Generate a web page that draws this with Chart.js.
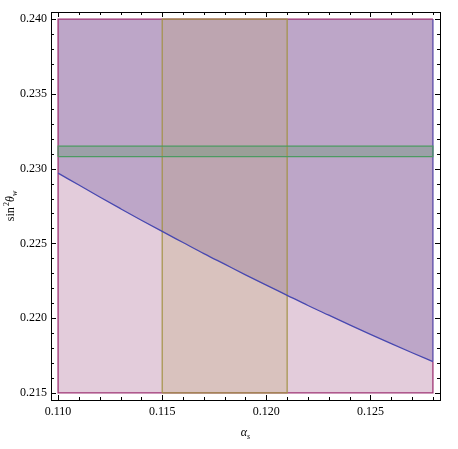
<!DOCTYPE html>
<html><head><meta charset="utf-8">
<script src="https://cdn.jsdelivr.net/npm/chart.js@4.4.1/dist/chart.umd.min.js"></script>
<style>html,body{margin:0;padding:0;background:#fff}#wrap{width:458px;height:449px;position:relative}</style>
</head><body><div id="wrap"><canvas id="c"></canvas></div>
<script>
// ---- data ----
const alphaS    = [0.110,0.111,0.112,0.113,0.114,0.115,0.116,0.117,0.118,0.119,0.120,0.121,0.122,0.123,0.124,0.125,0.126,0.127,0.128];
const sin2Curve = [0.22970,0.22890,0.22810,0.22732,0.22655,0.22580,0.22506,0.22432,0.22361,0.22290,0.22221,0.22153,0.22085,0.22020,0.21955,0.21892,0.21830,0.21769,0.21710];
const xBounds   = [0.110, 0.128];
const yBounds   = [0.215, 0.240];
const alphaSBand = [0.115, 0.121];
const sin2Band   = [0.2308, 0.2315];
const xTickLabels = [0.110, 0.115, 0.120, 0.125];
const yTickLabels = [0.215, 0.220, 0.225, 0.230, 0.235, 0.240];

const pts = (xs, ys) => xs.map((x, i) => ({x, y: Array.isArray(ys) ? ys[i] : ys}));
const rect = (x0, x1, y0, y1) => [{x:x0,y:y0},{x:x1,y:y0},{x:x1,y:y1},{x:x0,y:y1},{x:x0,y:y0}];

const base = {pointRadius:0, pointHoverRadius:0, tension:0, borderWidth:0, fill:false};
const lastY = sin2Curve[sin2Curve.length - 1];

const datasets = [
  // 0,1 pink region
  {...base, data: pts(xBounds, yBounds[1]), fill: 1, backgroundColor:'rgba(162,85,135,0.30)', order: 20},
  {...base, data: pts(xBounds, yBounds[0]), order: 19},
  // 2,3 purple region (above curve)
  {...base, data: pts(alphaS, yBounds[1]), fill: 3, backgroundColor:'rgba(100,77,156,0.30)', order: 18},
  {...base, data: pts(alphaS, sin2Curve), cubicInterpolationMode:'monotone', order: 17},
  // 4,5 olive band
  {...base, data: pts(alphaSBand, yBounds[1]), fill: 5, backgroundColor:'rgba(187,164,103,0.25)', order: 16},
  {...base, data: pts(alphaSBand, yBounds[0]), order: 15},
  // 6,7 green band
  {...base, data: pts(xBounds, sin2Band[1]), fill: 7, backgroundColor:'rgba(95,150,110,0.35)', order: 14},
  {...base, data: pts(xBounds, sin2Band[0]), order: 13},
  // borders
  {...base, data: [{x:xBounds[1],y:yBounds[1]},{x:xBounds[1],y:lastY}], borderWidth:1.3, borderColor:'#5a4aa8', order: 7},
  {...base, data: [{x:xBounds[1],y:lastY},{x:xBounds[1],y:yBounds[0]},{x:xBounds[0],y:yBounds[0]},{x:xBounds[0],y:yBounds[1]},{x:xBounds[1],y:yBounds[1]}], borderWidth:1.3, borderColor:'#9e3474', order: 6},
  {...base, data: rect(alphaSBand[0], alphaSBand[1], yBounds[0], yBounds[1]), borderWidth:1.2, borderColor:'#a39348', order: 4},
  {...base, data: rect(xBounds[0], xBounds[1], sin2Band[0], sin2Band[1]), borderWidth:1.2, borderColor:'#4c9a62', order: 3},
  {...base, data: pts(alphaS, sin2Curve), cubicInterpolationMode:'monotone', borderWidth:1.3, borderColor:'#4848b0', order: 2},
];

const serif = '"Liberation Serif", "DejaVu Serif", serif';

const framePlugin = {
  id: 'frame',
  afterDraw(chart) {
    const {ctx, chartArea: a, scales: {x, y}} = chart;
    ctx.save();
    ctx.strokeStyle = '#000';
    ctx.lineWidth = 1;
    ctx.strokeRect(a.left + 0.5, a.top + 0.5, a.right - a.left, a.bottom - a.top);
    ctx.beginPath();
    for (let i = 110; i <= 128; i++) {
      const px = Math.round(x.getPixelForValue(i / 1000)) + 0.5;
      const len = i % 5 === 0 ? 5 : 3;
      ctx.moveTo(px, a.bottom); ctx.lineTo(px, a.bottom - len);
      ctx.moveTo(px, a.top); ctx.lineTo(px, a.top + len);
    }
    for (let i = 215; i <= 240; i++) {
      const py = Math.round(y.getPixelForValue(i / 1000)) + 0.5;
      const len = i % 5 === 0 ? 5 : 3;
      ctx.moveTo(a.left, py); ctx.lineTo(a.left + len, py);
      ctx.moveTo(a.right, py); ctx.lineTo(a.right - len, py);
    }
    ctx.stroke();

    // x title: alpha_s
    ctx.fillStyle = '#000';
    ctx.textBaseline = 'alphabetic';
    const cx = (a.left + a.right) / 2;
    ctx.font = 'italic 12px ' + serif;
    const wA = ctx.measureText('α').width;
    ctx.font = 'italic 8px ' + serif;
    const wS = ctx.measureText('s').width;
    let sx = cx - (wA + wS) / 2;
    ctx.font = 'italic 12px ' + serif;
    ctx.fillText('α', sx, 436);
    ctx.font = 'italic 8px ' + serif;
    ctx.fillText('s', sx + wA, 439);

    // y title: sin^2 theta_w (rotated)
    ctx.save();
    ctx.translate(14, (a.top + a.bottom) / 2);
    ctx.rotate(-Math.PI / 2);
    const parts = [
      ['sin', '12px ' + serif, 0],
      [' ', '5px ' + serif, 0],
      ['2', '8px ' + serif, -5],
      ['θ', 'italic 12px ' + serif, 0],
      ['w', 'italic 8px ' + serif, 3],
    ];
    let tw = 0;
    parts.forEach(p => { ctx.font = p[1]; p.w = ctx.measureText(p[0]).width; tw += p.w; });
    let px = -tw / 2;
    parts.forEach(p => { ctx.font = p[1]; ctx.fillText(p[0], px, p[2]); px += p.w; });
    ctx.restore();
    ctx.restore();
  }
};

new Chart(document.getElementById('c'), {
  type: 'line',
  data: { datasets },
  plugins: [framePlugin],
  options: {
    responsive: true,
    maintainAspectRatio: false,
    animation: false,
    events: [],
    layout: { padding: { top: 12, right: 18, left: 0, bottom: 0 } },
    plugins: { legend: { display: false }, tooltip: { enabled: false }, filler: { propagate: false } },
    scales: {
      x: {
        type: 'linear', min: 0.10966, max: 0.12834,
        grid: { display: false, drawTicks: false },
        border: { display: false },
        afterBuildTicks: s => { s.ticks = xTickLabels.map(v => ({value: v})); },
        afterFit: s => { s.height = 49; },
        ticks: { padding: 5, color: '#000', font: { family: serif, size: 12 }, maxRotation: 0, autoSkip: false,
          callback: v => Number(v).toFixed(3) }
      },
      y: {
        type: 'linear', min: 0.21453, max: 0.24047,
        grid: { display: false, drawTicks: false },
        border: { display: false },
        afterBuildTicks: s => { s.ticks = yTickLabels.map(v => ({value: v})); },
        afterFit: s => { s.width = 51; },
        ticks: { padding: 4, color: '#000', font: { family: serif, size: 12 }, autoSkip: false,
          callback: v => Number(v).toFixed(3) }
      }
    }
  }
});
</script></body></html>
